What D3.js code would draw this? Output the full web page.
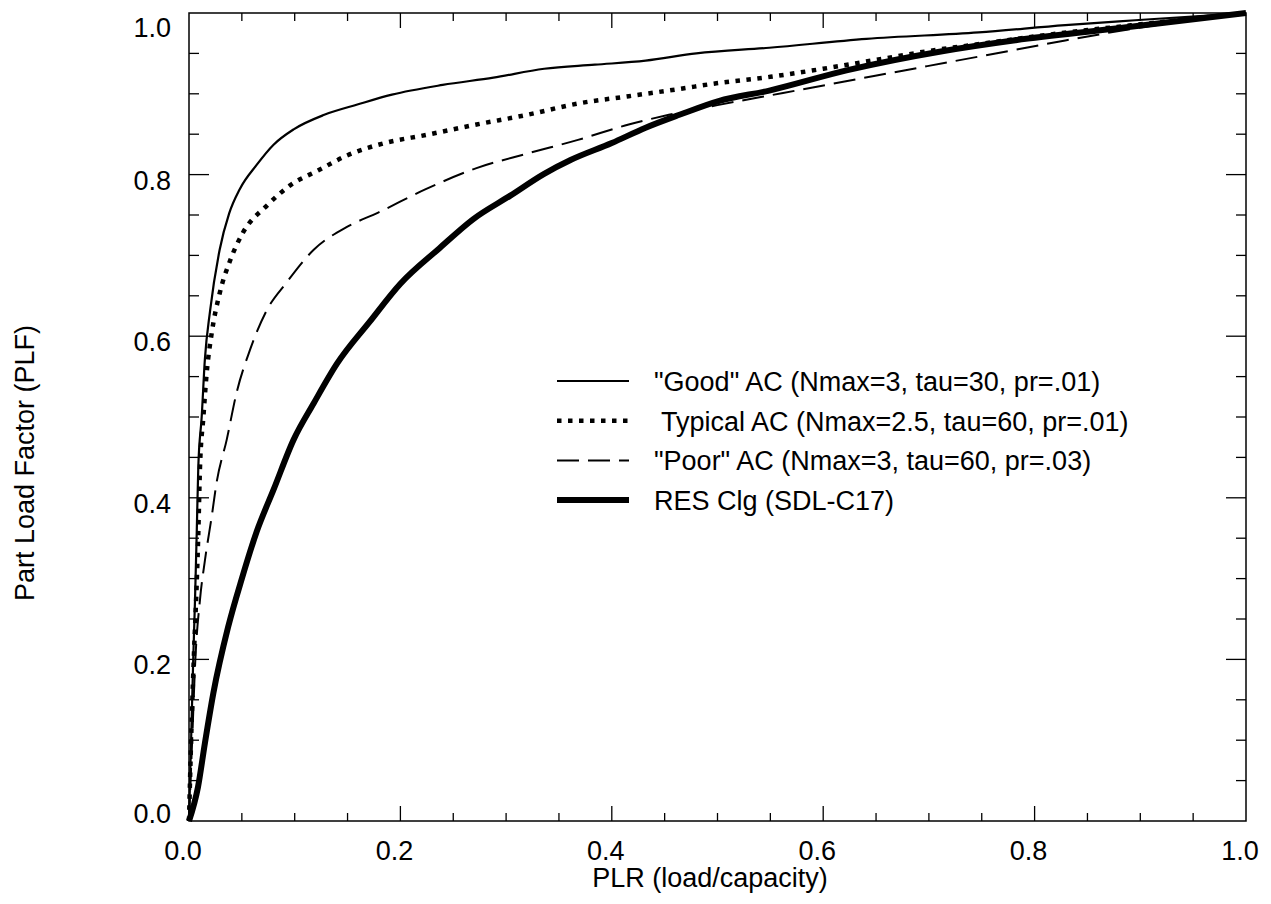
<!DOCTYPE html>
<html>
<head>
<meta charset="utf-8">
<script src="https://cdn.jsdelivr.net/npm/d3@7"></script>
<style>
  body { margin: 0; background: #fff; }
  text { font-family: Arial, "Liberation Sans", sans-serif; fill: #000; white-space: pre; }
</style>
</head>
<body>
<div id="chart"></div>
<script>
// PLR (load/capacity) and PLF, one pair per curve
const goodPLR = [0, 0.002, 0.004, 0.0057, 0.0073, 0.0088, 0.012, 0.015, 0.020, 0.029, 0.038, 0.048, 0.064, 0.080, 0.099, 0.128, 0.160, 0.192, 0.240, 0.288, 0.336, 0.384, 0.432, 0.480, 0.549, 0.641, 0.747, 0.829, 0.895, 1.0];
const goodPLF = [0, 0.10, 0.20, 0.274, 0.356, 0.438, 0.50, 0.571, 0.632, 0.707, 0.752, 0.782, 0.812, 0.837, 0.856, 0.874, 0.887, 0.899, 0.911, 0.920, 0.931, 0.936, 0.941, 0.950, 0.957, 0.968, 0.976, 0.985, 0.991, 1.0];

const typicalPLR = [0, 0.002, 0.0045, 0.0073, 0.0088, 0.0104, 0.0136, 0.0167, 0.0215, 0.029, 0.039, 0.051, 0.074, 0.096, 0.122, 0.150, 0.185, 0.224, 0.272, 0.320, 0.368, 0.416, 0.464, 0.499, 0.55, 0.60, 0.65, 0.70, 0.75, 0.8, 0.9, 1.0];
const typicalPLF = [0, 0.10, 0.20, 0.294, 0.356, 0.438, 0.500, 0.554, 0.604, 0.653, 0.694, 0.728, 0.762, 0.787, 0.805, 0.824, 0.839, 0.849, 0.862, 0.874, 0.888, 0.897, 0.906, 0.913, 0.921, 0.931, 0.942, 0.953, 0.962, 0.971, 0.986, 1.0];

const poorPLR = [0, 0.003, 0.006, 0.0104, 0.0151, 0.0215, 0.026, 0.0357, 0.045, 0.0577, 0.0735, 0.092, 0.118, 0.149, 0.179, 0.224, 0.272, 0.320, 0.368, 0.416, 0.454, 0.50, 0.562, 0.648, 0.747, 0.829, 0.895, 1.0];
const poorPLF = [0, 0.10, 0.20, 0.274, 0.323, 0.377, 0.418, 0.472, 0.530, 0.583, 0.632, 0.666, 0.707, 0.735, 0.753, 0.782, 0.808, 0.826, 0.843, 0.862, 0.874, 0.886, 0.901, 0.922, 0.946, 0.966, 0.981, 1.0];

const resPLR = [0, 0.0085, 0.015, 0.023, 0.037, 0.050, 0.064, 0.080, 0.099, 0.118, 0.140, 0.171, 0.200, 0.237, 0.269, 0.304, 0.336, 0.361, 0.400, 0.432, 0.464, 0.501, 0.549, 0.622, 0.714, 0.780, 0.879, 1.0];
const resPLF = [0, 0.042, 0.096, 0.158, 0.240, 0.300, 0.358, 0.410, 0.472, 0.517, 0.566, 0.618, 0.665, 0.709, 0.745, 0.774, 0.801, 0.818, 0.839, 0.858, 0.874, 0.891, 0.904, 0.929, 0.953, 0.966, 0.981, 1.0];

const legendLabels = [
  '"Good" AC (Nmax=3, tau=30, pr=.01)',
  ' Typical AC (Nmax=2.5, tau=60, pr=.01)',
  '"Poor" AC (Nmax=3, tau=60, pr=.03)',
  'RES Clg (SDL-C17)'
];
const majorTicks = [0, 0.2, 0.4, 0.6, 0.8, 1.0];

const W = 1271, H = 904;
const plotLeft = 189, plotRight = 1246, plotTop = 13, plotBottom = 821;

const svg = d3.select('#chart').append('svg')
  .attr('width', W)
  .attr('height', H);

const x = d3.scaleLinear().domain([0, 1]).range([plotLeft, plotRight]);
const y = d3.scaleLinear().domain([0, 1]).range([plotBottom, plotTop]);

const styles = [
  {width: 2.2, dash: null},
  {width: 4.5, dash: '4.5,6.5'},
  {width: 2, dash: '22,9'},
  {width: 6, dash: null}
];

const series = [
  d3.zip(goodPLR, goodPLF),
  d3.zip(typicalPLR, typicalPLF),
  d3.zip(poorPLR, poorPLF),
  d3.zip(resPLR, resPLF)
];

const line = d3.line()
  .x(d => x(d[0]))
  .y(d => y(d[1]))
  .curve(d3.curveMonotoneX);

// curves, thick one first so the others sit on it
const order = [3, 2, 1, 0];
svg.append('g').attr('class', 'curves')
  .selectAll('path')
  .data(order)
  .enter()
  .append('path')
  .attr('d', i => line(series[i]))
  .attr('fill', 'none')
  .attr('stroke', '#000')
  .attr('stroke-width', i => styles[i].width)
  .attr('stroke-dasharray', i => styles[i].dash)
  .attr('stroke-linejoin', 'round');

// frame
svg.append('rect')
  .attr('x', plotLeft)
  .attr('y', plotTop)
  .attr('width', plotRight - plotLeft)
  .attr('height', plotBottom - plotTop)
  .attr('fill', 'none')
  .attr('stroke', '#000')
  .attr('stroke-width', 1.5);

// inward ticks on all four sides
const minor = d3.range(0, 1.0001, 0.05).filter(v => Math.abs(v * 5 - Math.round(v * 5)) > 1e-6);
const tickG = svg.append('g').attr('stroke', '#000').attr('stroke-width', 1.3);
function hTicks(vals, len) {
  vals.forEach(v => {
    tickG.append('line').attr('x1', x(v)).attr('x2', x(v)).attr('y1', plotBottom).attr('y2', plotBottom - len);
    tickG.append('line').attr('x1', x(v)).attr('x2', x(v)).attr('y1', plotTop).attr('y2', plotTop + len);
  });
}
function vTicks(vals, len) {
  vals.forEach(v => {
    tickG.append('line').attr('y1', y(v)).attr('y2', y(v)).attr('x1', plotLeft).attr('x2', plotLeft + len);
    tickG.append('line').attr('y1', y(v)).attr('y2', y(v)).attr('x1', plotRight).attr('x2', plotRight - len);
  });
}
hTicks(majorTicks.slice(1, -1), 15);
hTicks(minor, 8);
vTicks(majorTicks.slice(1, -1), 20);
vTicks(minor, 10);

// tick labels
const fmt = d3.format('.1f');
svg.append('g').selectAll('text')
  .data(majorTicks)
  .enter()
  .append('text')
  .attr('x', d => x(d) - 6)
  .attr('y', plotBottom + 39)
  .attr('text-anchor', 'middle')
  .style('font-size', '27px')
  .text(fmt);

svg.append('g').selectAll('text')
  .data(majorTicks)
  .enter()
  .append('text')
  .attr('x', 171)
  .attr('y', d => y(d) + (d === 0 ? 2 : d === 1 ? 24 : 15))
  .attr('text-anchor', 'end')
  .style('font-size', '27px')
  .text(fmt);

// axis titles
svg.append('text')
  .attr('x', 710)
  .attr('y', 887)
  .attr('text-anchor', 'middle')
  .style('font-size', '27px')
  .text('PLR (load/capacity)');

svg.append('text')
  .attr('transform', 'translate(34,463) rotate(-90)')
  .attr('text-anchor', 'middle')
  .style('font-size', '27px')
  .text('Part Load Factor (PLF)');

// legend
const legend = svg.append('g').attr('class', 'legend');
const rowY = d => 381 + d * 39.7;
legend.selectAll('line')
  .data(d3.range(4))
  .enter()
  .append('line')
  .attr('x1', 557)
  .attr('x2', 629)
  .attr('y1', rowY)
  .attr('y2', rowY)
  .attr('stroke', '#000')
  .attr('stroke-width', i => styles[i].width)
  .attr('stroke-dasharray', i => styles[i].dash);
legend.selectAll('text')
  .data(d3.range(4))
  .enter()
  .append('text')
  .attr('x', 654)
  .attr('y', i => rowY(i) + 10)
  .style('font-size', '27px')
  .text(i => legendLabels[i]);
</script>
</body>
</html>
